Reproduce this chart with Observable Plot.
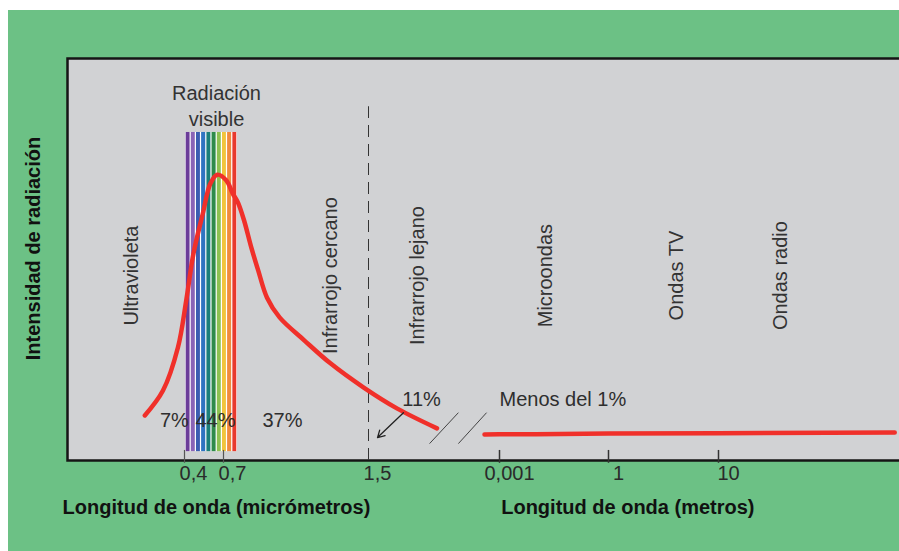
<!DOCTYPE html>
<html>
<head>
<meta charset="utf-8">
<script src="https://cdn.jsdelivr.net/npm/d3@7"></script>
<script src="https://cdn.jsdelivr.net/npm/@observablehq/plot@0.6"></script>
<style>
  html, body { margin: 0; padding: 0; background: #ffffff; width: 899px; height: 551px; overflow: hidden; }
  #verde { position: absolute; left: 8px; top: 10px; right: 0; bottom: 0; background: #6cc185; }
  #chart { position: absolute; left: 0; top: 0; width: 899px; height: 551px; overflow: hidden; }
  #chart svg { overflow: hidden; }
</style>
</head>
<body>
<div id="verde"></div>
<div id="chart"></div>
<script>
// ---- Datos (longitud de onda en micrómetros, intensidad en unidades relativas) ----
const curvaUm = [0.25, 0.31, 0.37, 0.41, 0.455, 0.52, 0.58, 0.64, 0.71, 0.735, 0.755, 0.78, 0.81, 0.84, 0.88, 0.94, 1.07, 1.23, 1.46, 1.98, 2.9];
const curvaIntensidad = [11.2, 17.4, 28.1, 39.8, 51.5, 61.4, 68.9, 71.1, 69.7, 66.4, 64.2, 59.7, 53.0, 47.3, 40.5, 35.6, 29.9, 24.1, 18.2, 12.9, 8.0];

// tramo de ondas largas (longitud de onda en metros)
const colaM = [0.0005, 0.001, 0.01, 1, 10, 100, 400];
const colaIntensidad = [6.47, 6.5, 6.55, 6.7, 6.8, 6.92, 6.97];

const ticksUm = [0.4, 0.7, 1.5];
const ticksUmEtiquetas = ["0,4", "0,7", "1,5"];
const ticksM = [0.001, 1, 10];
const ticksMEtiquetas = ["0,001", "1", "10"];

const regiones = ["Ultravioleta", "Infrarrojo cercano", "Infrarrojo lejano", "Microondas", "Ondas TV", "Ondas radio"];
const regionesUm = [0.213, 1.23, 2.4, 18450, 4.15e6, 3.66e7];

const porcentajes = ["7%", "44%", "37%"];
const porcentajesUm = [0.355, 0.624, 0.954];

const espectroColores = ["#6b3d99", "#8a64b6", "#3c5db1", "#2f74c2", "#1b7f7b", "#2e8b4b", "#8dc152", "#f1c43c", "#f08a3d", "#e8392d"];
const espectroBordesUm = [0.406, 0.437, 0.471, 0.507, 0.547, 0.589, 0.635, 0.684, 0.713, 0.733, 0.753];

const escalaUm = [0.1, 0.4, 0.7, 1.5, 3, 500, 1e3, 1e6, 1e7, 1e8];

// ---- Construcción ----
const L = Math.log10;
const curva = curvaUm.map((um, i) => ({um, I: curvaIntensidad[i]}));
const cola = colaM.map((m, i) => ({um: m * 1e6, I: colaIntensidad[i]}));
const bandas = espectroColores.map((c, i) => ({a: espectroBordesUm[i], b: espectroBordesUm[i + 1], c}));
const ticksA = ticksUm.map((um, i) => ({um, t: ticksUmEtiquetas[i]}));
const ticksB = ticksM.map((m, i) => ({um: m * 1e6, t: ticksMEtiquetas[i]}));
const regs = regiones.map((t, i) => ({t, um: regionesUm[i]}));
const pcts = porcentajes.map((t, i) => ({t, um: porcentajesUm[i]}));
const cortes = [{a: 2.7, b: 24}, {a: 24, b: 550}];

const font = "'Liberation Sans', Arial, Helvetica, sans-serif";

const chart = Plot.plot({
  width: 899,
  height: 551,
  marginLeft: 67,
  marginTop: 58,
  marginBottom: 91,
  marginRight: 0,
  style: {background: "transparent", fontFamily: font, fontSize: "20px", overflow: "hidden"},
  x: {type: "linear", domain: escalaUm.map(L), range: [67, 184, 223, 368, 440, 484, 499, 608, 718, 828], axis: null},
  y: {domain: [0, 100], axis: null},
  marks: [
    Plot.frame({fill: "#d1d2d4", stroke: "#151515", strokeWidth: 2.5, insetRight: -20}),
    // espectro visible
    Plot.rect([bandas], {x1: d => L(d[0].a), x2: d => L(d[d.length - 1].b), y1: 2.2, y2: 81.6, fill: "#ffffff"}),
    Plot.rect(bandas, {x1: d => L(d.a), x2: d => L(d.b), y1: 2.2, y2: 81.6, fill: "c", insetLeft: 0.6, insetRight: 0.6}),
    // línea discontinua 1,5 µm
    Plot.ruleX([1.5], {x: L, y1: 0, y2: 88, stroke: "#333", strokeWidth: 1, strokeDasharray: "12,7"}),
    // marcas del eje
    Plot.ruleX(ticksA.slice(0, 2), {x: d => L(d.um), y1: -0.7, y2: 2.5, stroke: "#555", strokeWidth: 1.2}),
    Plot.ruleX(ticksB, {x: d => L(d.um), y1: -0.7, y2: 2.5, stroke: "#333", strokeWidth: 1.5}),
    // cortes del eje
    Plot.link(cortes, {x1: d => L(d.a), x2: d => L(d.b), y1: 4.2, y2: 11.9, stroke: "#444", strokeWidth: 1}),
    // curva de intensidad
    Plot.line(curva, {x: d => L(d.um), y: "I", curve: "catmull-rom", stroke: "#f0302a", strokeWidth: 4.5}),
    Plot.line(cola, {x: d => L(d.um), y: "I", stroke: "#f0302a", strokeWidth: 4.5}),
    // flecha
    Plot.arrow([{a: 2.1, b: 1.636}], {x1: d => L(d.a), x2: d => L(d.b), y1: 11.9, y2: 5.7, stroke: "#222", strokeWidth: 1.3, headLength: 9}),
    // etiquetas del eje
    Plot.text(ticksA, {x: d => L(d.um), y: 0, dy: 13, dx: 9, text: "t", fill: "#2a2a2a"}),
    Plot.text(ticksB, {x: d => L(d.um), y: 0, dy: 13, dx: 10, text: "t", fill: "#2a2a2a"}),
    // regiones
    Plot.text(regs, {x: d => L(d.um), y: 46, rotate: -90, text: "t", fill: "#333"}),
    Plot.text(["Radiación\nvisible"], {x: L(0.633), y: 88.6, lineHeight: 1.3, fill: "#333"}),
    // porcentajes
    Plot.text(pcts, {x: d => L(d.um), y: 10, text: "t", fill: "#2e2e2e"}),
    Plot.text(["11%"], {x: L(2.5), y: 15.2, fill: "#2e2e2e"}),
    Plot.text(["Menos del 1%"], {x: L(1000), y: 15.2, textAnchor: "start", fill: "#2e2e2e"}),
    // títulos
    Plot.text(["Intensidad de radiación"], {frameAnchor: "left", textAnchor: "middle", rotate: -90, dx: -34, dy: -11, fontWeight: "bold", fill: "#111"}),
    Plot.text(["Longitud de onda (micrómetros)", "Longitud de onda (metros)"], {x: [L(0.633), L(1.5e6)], frameAnchor: "bottom", dy: 53, fontWeight: "bold", fill: "#111"})
  ]
});
document.getElementById("chart").appendChild(chart);
</script>
</body>
</html>
